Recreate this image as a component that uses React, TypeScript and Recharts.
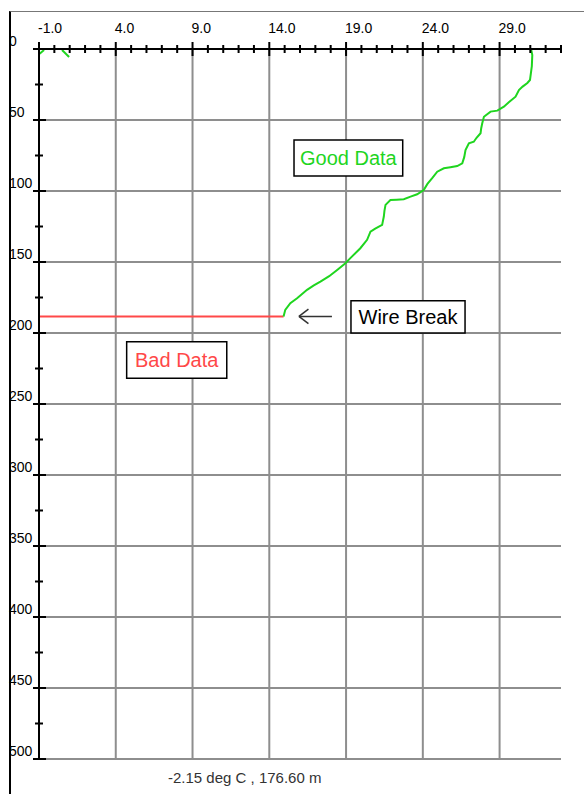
import { LineChart, Line, XAxis, YAxis, CartesianGrid, ReferenceLine, ReferenceArea } from "recharts";

// temperature (deg C) vs depth (m)
const GOOD_TEMP = [31.05, 31.13, 31.1, 30.98, 30.81, 30.5, 30.26, 30.04, 29.6, 29.28, 28.85, 28.41, 27.98, 27.87, 27.8, 27.76, 27.5, 27.32, 27.0, 26.78, 26.7, 26.57, 26.24, 25.8, 25.37, 24.94, 24.61, 24.3, 24.06, 23.63, 23.2, 22.76, 22.3, 21.89, 21.57, 21.5, 21.46, 21.35, 20.9, 20.59, 20.37, 19.93, 19.28, 18.96, 18.42, 17.9, 17.33, 16.9, 16.46, 15.81, 15.37, 15.04, 14.93];
const GOOD_DEPTH = [0, 4.2, 12, 21.8, 23.9, 26.5, 28.9, 33.6, 37.5, 40.6, 43.4, 44.1, 47.7, 52.3, 56, 59.3, 62.5, 65.3, 66.4, 71.1, 76, 80.5, 82.4, 83.2, 84.0, 86.4, 91.0, 95, 99.3, 102.3, 104.0, 105.8, 106.1, 106.3, 109.8, 114, 118.0, 123.9, 126.5, 128.6, 134.4, 140.3, 147.3, 150.9, 155.6, 160, 163.8, 166.5, 169.6, 175.5, 179.0, 183.7, 188.3];

// short bits of trace at the surface
const SPIKE_A_TEMP = [-0.98, -0.67];
const SPIKE_A_DEPTH = [3.5, 0.7];
const SPIKE_B_TEMP = [0.5, 0.96];
const SPIKE_B_DEPTH = [0.7, 5.6];

// flat part after the wire broke
const BAD_TEMP = [-1, 14.93];
const BAD_DEPTH = [188.3, 188.3];

const X_TICKS = Array.from({ length: 35 }, (_, i) => i - 1);
const X_MAJOR = [4, 9, 14, 19, 24, 29];
const Y_TICKS = Array.from({ length: 21 }, (_, i) => i * 25);
const Y_MAJOR = [50, 100, 150, 200, 250, 300, 350, 400, 450, 500];

const READOUT = "-2.15 deg C , 176.60 m";

const toPoints = (temps: number[], depths: number[]) =>
    temps.map((t, i) => ({ temp: t, depth: depths[i] }));

const goodData = toPoints(GOOD_TEMP, GOOD_DEPTH);
const spikeA = toPoints(SPIKE_A_TEMP, SPIKE_A_DEPTH);
const spikeB = toPoints(SPIKE_B_TEMP, SPIKE_B_DEPTH);
const badData = toPoints(BAD_TEMP, BAD_DEPTH);

const FONT = "'Liberation Sans', Arial, sans-serif";
const GREEN = "#1fd51f";
const RED = "#ff4848";
const GRID = "#8e8e8e";

const XTick = (props: any) => {
    const { x, y, payload } = props;
    const v = payload.value as number;
    const major = (v + 1) % 5 === 0;
    const h = major ? 7 : 4;
    return (
        <g>
            <line x1={x} x2={x} y1={y - h} y2={y + h} stroke="#000" strokeWidth={2} />
            {major && (
                <text x={x - 1} y={y - 16} textAnchor="start" fontSize={14} fontFamily={FONT} fill="#000">
                    {v.toFixed(1)}
                </text>
            )}
        </g>
    );
};

const YTick = (props: any) => {
    const { x, y, payload } = props;
    const v = payload.value as number;
    const major = v % 50 === 0;
    return (
        <g>
            <line x1={x - (major ? 6 : 4)} x2={x + (major ? 7 : 4)} y1={y} y2={y} stroke="#000" strokeWidth={2} />
            {major && (
                <text x={x - 30} y={y - 3} textAnchor="start" fontSize={14} fontFamily={FONT} fill="#000">
                    {v}
                </text>
            )}
        </g>
    );
};

const boxLabel = (text: string, color: string) => ({
    value: text,
    position: "center" as const,
    fill: color,
    fontSize: 20,
    fontFamily: FONT,
});

const App = () => {
    return (
        <div style={{ position: "absolute", left: 0, top: 0, width: 584, height: 794, background: "#fff", overflow: "hidden" }}>
            <LineChart
                width={584}
                height={794}
                margin={{ top: 48, left: 38, right: 23, bottom: 35 }}
            >
                <CartesianGrid
                    stroke={GRID}
                    strokeWidth={2}
                    verticalValues={X_MAJOR}
                    horizontalValues={Y_MAJOR}
                />
                <XAxis
                    type="number"
                    dataKey="temp"
                    orientation="top"
                    domain={[-1, 33]}
                    ticks={X_TICKS}
                    interval={0}
                    height={1}
                    tickSize={0}
                    tickMargin={0}
                    axisLine={{ stroke: "#000", strokeWidth: 2 }}
                    tickLine={false}
                    tick={XTick}
                    allowDataOverflow
                />
                <YAxis
                    type="number"
                    dataKey="depth"
                    reversed
                    domain={[0, 500]}
                    ticks={Y_TICKS}
                    interval={0}
                    width={1}
                    tickSize={0}
                    tickMargin={0}
                    axisLine={{ stroke: "#000", strokeWidth: 2 }}
                    tickLine={false}
                    tick={YTick}
                    allowDataOverflow
                />
                <Line data={badData} dataKey="depth" stroke={RED} strokeWidth={2} dot={false} isAnimationActive={false} />
                <Line data={goodData} dataKey="depth" stroke={GREEN} strokeWidth={2} dot={false} isAnimationActive={false} />
                <Line data={spikeA} dataKey="depth" stroke={GREEN} strokeWidth={2} dot={false} isAnimationActive={false} />
                <Line data={spikeB} dataKey="depth" stroke={GREEN} strokeWidth={2} dot={false} isAnimationActive={false} />
                <ReferenceArea x1={15.61} x2={22.69} y1={64.1} y2={89.4} fill="#fff" fillOpacity={1} stroke="#000" strokeWidth={1.5} label={boxLabel("Good Data", GREEN)} />
                <ReferenceArea x1={19.32} x2={26.75} y1={177.3} y2={200} fill="#fff" fillOpacity={1} stroke="#000" strokeWidth={1.5} label={boxLabel("Wire Break", "#000")} />
                <ReferenceArea x1={4.71} x2={11.23} y1={206.1} y2={231.9} fill="#fff" fillOpacity={1} stroke="#000" strokeWidth={1.5} label={boxLabel("Bad Data", RED)} />
                <ReferenceLine segment={[{ x: 15.93, y: 188.3 }, { x: 18.08, y: 188.3 }]} stroke="#333" strokeWidth={1.5} />
                <ReferenceLine segment={[{ x: 15.93, y: 188.3 }, { x: 16.55, y: 183.2 }]} stroke="#333" strokeWidth={1.5} />
                <ReferenceLine segment={[{ x: 15.93, y: 188.3 }, { x: 16.55, y: 193.4 }]} stroke="#333" strokeWidth={1.5} />
            </LineChart>
            <div
                style={{
                    position: "absolute",
                    left: 9,
                    top: 11,
                    width: 575,
                    height: 783,
                    borderLeft: "2px solid #000",
                    borderTop: "1px solid #777",
                    boxSizing: "border-box",
                    pointerEvents: "none",
                }}
            />
            <div
                style={{
                    position: "absolute",
                    left: 168,
                    top: 769,
                    fontSize: 15,
                    fontFamily: FONT,
                    color: "#333",
                    whiteSpace: "nowrap",
                }}
            >
                {READOUT}
            </div>
        </div>
    );
};

export default App;
